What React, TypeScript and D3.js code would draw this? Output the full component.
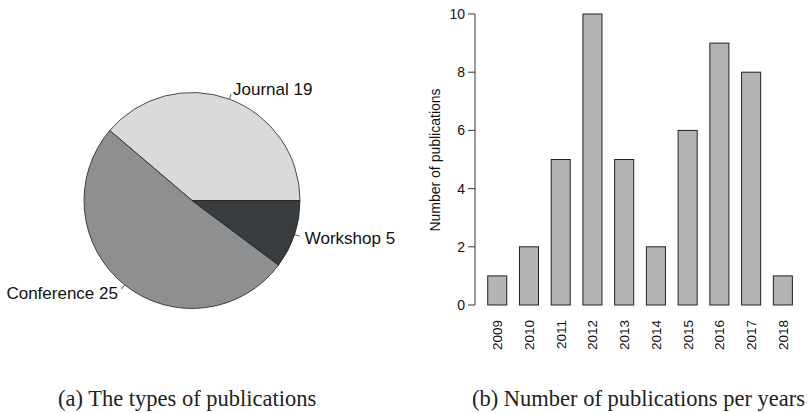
import React from "react";
import * as d3 from "d3";

const pieLabels = ["Journal", "Conference", "Workshop"];
const pieValues = [19, 25, 5];
const pieColors = ["#dadada", "#8e8f91", "#393c3f"];

const years = ["2009", "2010", "2011", "2012", "2013", "2014", "2015", "2016", "2017", "2018"];
const counts = [1, 2, 5, 10, 5, 2, 6, 9, 8, 1];
const yTicks = [0, 2, 4, 6, 8, 10];

const captionA = "(a) The types of publications";
const captionB = "(b) Number of publications per years";

export default function App() {
  const W = 808, H = 413;
  const cx = 192, cy = 200.5, r = 108;
  const pie = d3.pie<number>().sort(null).startAngle(Math.PI / 2).endAngle(Math.PI / 2 - 2 * Math.PI);
  const arcs = pie(pieValues);
  const arcGen = d3.arc<d3.PieArcDatum<number>>().innerRadius(0).outerRadius(r);

  const x = d3.scaleBand<string>().domain(years).range([478.2, 801.9]).paddingInner(0.4).paddingOuter(0.3);
  const y = d3.scaleLinear().domain([0, 10]).range([305, 14]);
  const sans = "'Liberation Sans', Arial, Helvetica, sans-serif";
  const serif = "'Liberation Serif', 'Times New Roman', serif";

  return (
    <svg width={W} height={H} style={{ position: "absolute", left: 0, top: 0, background: "#fff" }}>
      <g transform={`translate(${cx},${cy})`}>
        {arcs.map((a, i) => (
          <path key={i} d={arcGen(a) || ""} fill={pieColors[i]} stroke="#222" strokeWidth={0.8} />
        ))}
        {arcs.map((a, i) => {
          const m = (a.startAngle + a.endAngle) / 2;
          const sx = Math.sin(m), sy = -Math.cos(m);
          const lx = 1.1 * r * sx, ly = 1.1 * r * sy;
          return (
            <g key={"l" + i}>
              <line x1={r * sx} y1={r * sy} x2={1.05 * r * sx} y2={1.05 * r * sy} stroke="#333" strokeWidth={0.8} />
              <text x={lx} y={ly} dy="0.35em" textAnchor={sx >= 0 ? "start" : "end"} fontFamily={sans} fontSize={17} fill="#111">
                {`${pieLabels[i]} ${pieValues[i]}`}
              </text>
            </g>
          );
        })}
      </g>

      <g>
        <line x1={475} x2={475} y1={y(0)} y2={y(10)} stroke="#333" strokeWidth={1} />
        {yTicks.map((t) => (
          <g key={t}>
            <line x1={468} x2={475} y1={y(t)} y2={y(t)} stroke="#333" strokeWidth={1} />
            <text x={465} y={y(t)} dy="0.35em" textAnchor="end" fontFamily={sans} fontSize={14} fill="#111">{t}</text>
          </g>
        ))}
        <text transform={`translate(440,160) rotate(-90)`} textAnchor="middle" fontFamily={sans} fontSize={14} fill="#111">
          Number of publications
        </text>
        {years.map((yr, i) => (
          <rect key={yr} x={x(yr)} y={y(counts[i])} width={x.bandwidth()} height={y(0) - y(counts[i])} fill="#b3b5b5" stroke="#222" strokeWidth={1} />
        ))}
        {years.map((yr) => {
          const bx = (x(yr) || 0) + x.bandwidth() / 2 + 5;
          return (
            <text key={"t" + yr} transform={`translate(${bx},320) rotate(-90)`} textAnchor="end" fontFamily={sans} fontSize={13.5} fill="#111">
              {yr}
            </text>
          );
        })}
      </g>

      <text x={58} y={406} fontFamily={serif} fontSize={22.5} fill="#222">{captionA}</text>
      <text x={472} y={406} fontFamily={serif} fontSize={22.5} fill="#222">{captionB}</text>
    </svg>
  );
}
